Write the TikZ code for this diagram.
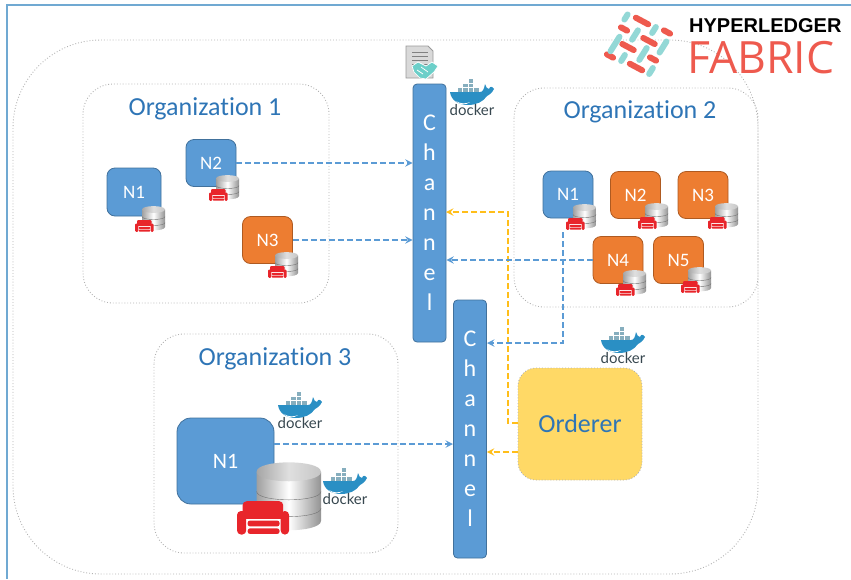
\documentclass[tikz,border=0pt]{standalone}
\usepackage{fontspec}
\setmainfont[Ligatures=NoCommon]{Carlito}
\newfontfamily\dockerfont{Lato}
\newfontfamily\hyperfont{Liberation Sans}
\newfontfamily\fabricfont{Open Sans}
\usepackage{tikz}
\definecolor{nodeblue}{HTML}{5B9BD5}
\definecolor{nodeblueline}{HTML}{41719C}
\definecolor{nodeorange}{HTML}{ED7D31}
\definecolor{nodeorangeline}{HTML}{AE5A21}
\definecolor{titleblue}{HTML}{2E75B6}
\definecolor{ordererfill}{HTML}{FFD966}
\definecolor{flowyellow}{HTML}{FFBE1A}
\definecolor{framecol}{HTML}{70A9D2}
\definecolor{logored}{HTML}{EE5A4E}
\definecolor{logoteal}{HTML}{93D8D6}
\definecolor{whaleblue}{HTML}{2A8FC4}
\definecolor{crateblue}{HTML}{86AEBE}
\definecolor{couchred}{HTML}{E8252B}
\definecolor{dockertext}{HTML}{37474F}
\definecolor{shaketeal}{HTML}{6CCFC9}
\tikzset{
  region/.style={draw=gray!60,dotted,line width=0.9pt},
  peer/.style={draw,rounded corners=8pt,line width=0.8pt,minimum width=50pt,minimum height=47pt,inner sep=0pt,text=white,font=\fontsize{19}{22}\selectfont},
  peerblue/.style={peer,fill=nodeblue,draw=nodeblueline},
  peerorange/.style={peer,fill=nodeorange,draw=nodeorangeline},
  chanbar/.style={draw=nodeblueline,fill=nodeblue,rounded corners=4pt,line width=0.8pt,minimum width=33pt,minimum height=258pt,inner sep=0pt,text=white,align=center,font=\fontsize{24}{30}\selectfont},
  orgtitle/.style={text=titleblue,inner sep=0pt,font=\fontsize{26}{30}\selectfont},
  flowblue/.style={draw=nodeblue,line width=2.2pt,dash pattern=on 6pt off 3pt,-stealth},
  flowgold/.style={draw=flowyellow,line width=2.2pt,dash pattern=on 6pt off 3pt,-stealth},
  pics/dockerlogo/.style={code={
    \foreach \a/\b in {7/7.5,12.5/7.5,18/7.5,23.5/7.5,12.5/3,18/3,18/-1.5}
      \draw[fill=crateblue,draw=white,line width=0.4pt] (\a,\b) rectangle +(5.5,4.5);
    \fill[whaleblue] (0,12) -- (30,12) .. controls (33,12) and (34,9) .. (35,4) .. controls (36,7) and (37,9) .. (39,9) .. controls (40,6) and (42,6) .. (44,9) .. controls (42,13) and (39,15) .. (37,16) .. controls (33,22) and (26,25) .. (18,25) .. controls (8,25) and (1,20) .. (0,12) -- cycle;
    \fill[white] (6,21) .. controls (10,24) and (16,24) .. (20,22) .. controls (16,25.5) and (9,25) .. (6,21) -- cycle;
    \node[inner sep=0pt,text=dockertext,font=\dockerfont\fontsize{15}{16}\selectfont] (-word) at (22,30) {docker};
  }},
  pics/dbicon/.style={code={
    \shade[left color=gray!75,right color=gray!85,middle color=white] (7,3.5) -- (7,21) .. controls (7,25.5) and (30,25.5) .. (30,21) -- (30,3.5) -- cycle;
    \draw[black!55,line width=0.4pt] (7,10.5) .. controls (7,14.5) and (30,14.5) .. (30,10.5);
    \draw[black!55,line width=0.4pt] (7,16.5) .. controls (7,20.5) and (30,20.5) .. (30,16.5);
    \shade[left color=gray!70,right color=gray!45,middle color=gray!25] (7,3.5) .. controls (7,-1) and (30,-1) .. (30,3.5) .. controls (30,8) and (7,8) .. (7,3.5) -- cycle;
    \fill[couchred,rounded corners=#1pt] (2,14) rectangle (16.5,21);
    \fill[white] (2.8,20.4) rectangle (16.1,25.9);
    \fill[couchred,rounded corners=#1pt] (0,17.5) rectangle (3.3,25.9);
    \fill[couchred,rounded corners=#1pt] (15.6,17.5) rectangle (18.6,25.9);
    \fill[couchred,rounded corners=0.6*#1pt] (3.8,20.9) rectangle (15.2,23);
    \fill[couchred,rounded corners=0.6*#1pt] (3.8,23.7) rectangle (15.2,25.7);
  }}
}
\begin{document}
\begin{tikzpicture}[x=1pt,y=-1pt]
\useasboundingbox (0,0) rectangle (851,579);
\draw[framecol,line width=2pt] (851,5)--(7,5)--(7,579);
\draw[region,rounded corners=88pt] (13,40) rectangle (758,574);
\draw[region,rounded corners=30pt] (83,84) rectangle (329,303);
\draw[region,rounded corners=30pt] (514,88) rectangle (758,307);
\draw[region,rounded corners=30pt] (154,334) rectangle (398,553);

\node[orgtitle] (orgaTitle) at (205,108.5) {Organization 1};
\node[orgtitle] (orgbTitle) at (640,111.5) {Organization 2};
\node[orgtitle] (orgcTitle) at (275,358.5) {Organization 3};

\node[peerblue,minimum width=54pt,minimum height=48pt] (orgaN1) at (134,192) {N1};
\node[peerblue] (orgaN2) at (211,163) {N2};
\node[peerorange] (orgaN3) at (267.5,240) {N3};
\node[peerblue] (orgbN1) at (568,194.5) {N1};
\node[peerorange] (orgbN2) at (635.5,195) {N2};
\node[peerorange] (orgbN3) at (703,195) {N3};
\node[peerorange] (orgbN4) at (618,260) {N4};
\node[peerorange] (orgbN5) at (678.5,260) {N5};
\node[peerblue,rounded corners=14pt,minimum width=97pt,minimum height=86pt,font=\fontsize{22}{24}\selectfont] (orgcN1) at (225.5,461) {N1};

\node[chanbar] (channelA) at (429.5,213) {C\\h\\a\\n\\n\\e\\l};
\node[chanbar] (channelB) at (470,429) {C\\h\\a\\n\\n\\e\\l};
\node[draw=gray!60,dotted,line width=0.9pt,fill=ordererfill,rounded corners=18pt,minimum width=124pt,minimum height=112pt,inner sep=0pt,text=titleblue,font=\fontsize{26}{30}\selectfont] (orderer) at (580,424) {Orderer};

\foreach \x/\y in {135/206,209/175,268/252,566/204,638/203,708/203,616/270,681/267}
  \pic at (\x,\y) {dbicon=1.2};
\pic[scale=2.8] at (237,462) {dbicon=4};

\pic (dockerA) at (450,80) {dockerlogo};
\pic (dockerB) at (278,393) {dockerlogo};
\pic (dockerC) at (323,469) {dockerlogo};
\pic (dockerD) at (601,328) {dockerlogo};

\coordinate (nOneOut) at (563,232);
\coordinate (chBtop) at (487,343);
\coordinate (chBmid) at (453,444);
\coordinate (ordTop) at (518,423);
\coordinate (ordBend) at (508,423);
\coordinate (ordLow) at (518,452);
\coordinate (chAgold) at (446,212);

\draw[flowgold] (ordTop)--(ordBend)|-(chAgold);
\draw[flowgold] (ordLow)--(ordLow-|channelB.east);
\draw[flowblue] (orgaN2.east)--(orgaN2.east-|channelA.west);
\draw[flowblue] (orgaN3.east)--(orgaN3.east-|channelA.west);
\draw[flowblue] (orgbN4.west)--(orgbN4.west-|channelA.east);
\draw[flowblue] (nOneOut)|-(chBtop);
\draw[flowblue] (orgcN1.east|-chBmid)--(chBmid);

\foreach \x/\y/\l in {642/21/20,624/29/13,667/32/13,649/41/19,628/47/19,610/56/13,653/59/13,636/67/20}
  \draw[logored,line width=6pt,line cap=round,shift={(\x,\y)},rotate=-28] (-\l/2+3,0)--(\l/2-3,0);
\foreach \x/\y/\l in {626/17/12,635/35/17,654/30/13,615/44/23,663/47/19,643/54/20,623/58/13,651/71/13}
  \draw[logoteal,line width=6pt,line cap=round,shift={(\x,\y)},rotate=58] (-\l/2+3,0)--(\l/2-3,0);
\node[anchor=base west,inner sep=0pt,font=\hyperfont\bfseries\fontsize{20}{24}\selectfont] (logoTop) at (689,32) {HYPERLEDGER};
\node[anchor=base west,inner sep=0pt,text=logored,font=\fabricfont\fontsize{44.5}{46}\selectfont] (logoBottom) at (687,73) {FABRIC};

\draw[black!40,fill=black!15,line width=0.8pt] (406,46)--(428,46)--(433,51)--(433,78)--(406,78)--cycle;
\foreach \y in {52,56,60,64}
  \draw[black!50,line width=0.8pt] (412,\y)--(428,\y);
\draw[white,fill=shaketeal,line width=0.7pt] (412,66)--(418,62)--(426,66)--(432,62)--(438,66)--(434,72)--(426,79)--(420,78)--(414,72)--cycle;
\draw[white,line width=0.7pt] (417,70)--(423,74);
\draw[white,line width=0.7pt] (421,67)--(428,72);
\end{tikzpicture}
\end{document}
